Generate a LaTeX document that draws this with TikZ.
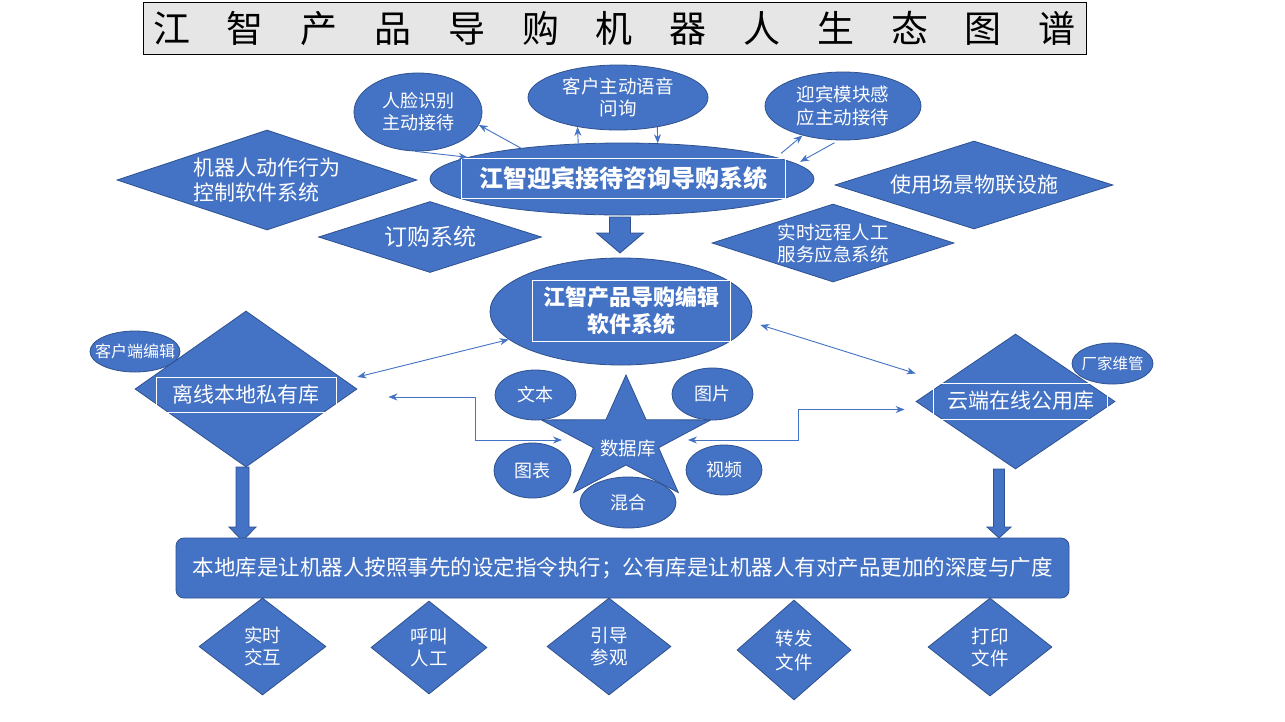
\documentclass[tikz,border=0pt]{standalone}
\usepackage{fontspec}
\setmainfont{Noto Sans CJK SC}
\usetikzlibrary{shapes.geometric, arrows.meta, positioning, calc}

\definecolor{boxblue}{HTML}{4472C4}
\definecolor{edgeblue}{HTML}{2F528F}
\definecolor{titlegrey}{HTML}{E7E6E6}

\newcommand{\fsz}[2]{\fontsize{#1}{#2}\selectfont}
\newcommand{\tgap}{\hspace{36.8pt}}

\tikzstyle{bubble}   = [ellipse, draw=edgeblue, fill=boxblue, line width=0.8pt, text=white, align=center, inner sep=0pt]
\tikzstyle{rhomb}    = [diamond, draw=edgeblue, fill=boxblue, line width=0.8pt, text=white, align=center, inner sep=0pt]
\tikzstyle{frame}    = [draw=white, line width=0.9pt, text=white, align=center, inner sep=0pt]
\tikzstyle{conn}     = [draw=boxblue, line width=0.9pt, -{Stealth[length=9pt,width=7pt]}]
\tikzstyle{dconn}    = [draw=boxblue, line width=0.9pt, {Stealth[length=9pt,width=7pt]}-{Stealth[length=9pt,width=7pt]}]
\tikzstyle{fatarrow} = [draw=edgeblue, fill=boxblue, line width=0.8pt]

\begin{document}
\begin{tikzpicture}[x=1pt, y=-1pt]

\fill[white] (0,0) rectangle (1285,721);
\useasboundingbox (0,0) rectangle (1285,721);

% title
\node[draw=black, fill=titlegrey, line width=0.8pt, minimum width=943, minimum height=52, inner sep=0pt, font=\fsz{37}{40}] (title) at (614.5,28)
  {江\tgap 智\tgap 产\tgap 品\tgap 导\tgap 购\tgap 机\tgap 器\tgap 人\tgap 生\tgap 态\tgap 图\tgap 谱};

% reception system
\node[bubble, minimum width=128, minimum height=78, font=\fsz{18}{22}] (face) at (418,112) {人脸识别\\主动接待};
\node[bubble, minimum width=180, minimum height=65, font=\fsz{18.5}{22}] (voice) at (618,97.5) {客户主动语音\\问询};
\node[bubble, minimum width=156, minimum height=68, font=\fsz{18.5}{23}] (sense) at (843,106) {迎宾模块感\\应主动接待};

\node[rhomb, minimum width=300, minimum height=100, shape aspect=3, align=left, font=\fsz{21}{25}] (motion) at (267,180) {机器人动作行为\\控制软件系统};
\node[rhomb, minimum width=223, minimum height=71, shape aspect=3.14, font=\fsz{23}{27}] (order) at (430,237) {订购系统};
\node[rhomb, minimum width=278, minimum height=88, shape aspect=3.16, font=\fsz{21}{25}] (iot) at (974,185) {使用场景物联设施};
\node[rhomb, minimum width=242, minimum height=78, shape aspect=3.1, font=\fsz{18.5}{22}] (remote) at (833,243) {实时远程人工\\服务应急系统};

\node[bubble, minimum width=384, minimum height=72] (greet) at (622,179) {};
\node[frame, minimum width=324, minimum height=40, font=\bfseries\fsz{24}{28}] (greett) at (623,178) {江智迎宾接待咨询导购系统};

\draw[conn] (greet.163) -- (face.-12);
\draw[conn] (face.-94) -- (greet.172);
\draw[conn] (greet.141) -- (voice.216);
\draw[conn] (voice.-37) -- (greet.45);
\draw[conn, shorten <=6pt] (greet.8) -- (sense.216);
\draw[conn, shorten <=5pt, shorten >=4pt] (sense.-97) -- (greet.5);

\draw[fatarrow] (609.5,217) -- (630.5,217) -- (630.5,233) -- (643.5,233) -- (620,253) -- (596.5,233) -- (609.5,233) -- cycle;

% editing software
\node[bubble, minimum width=262, minimum height=107] (edit) at (621,311.5) {};
\node[frame, minimum width=198, minimum height=61, font=\bfseries\fsz{22}{27}] (editt) at (631,310.5) {江智产品导购编辑\\软件系统};

% libraries
\node[rhomb, minimum width=222, minimum height=156] (lib) at (246,389) {};
\node[frame, minimum width=180, minimum height=35, font=\fsz{21}{25}] (libt) at (246,394.5) {离线本地私有库};
\node[bubble, minimum width=90, minimum height=41, label={[text=white, font=\fsz{16}{18}]center:客户端编辑}] (client) at (135,351.5) {};

\node[rhomb, minimum width=199, minimum height=135] (cloud) at (1015.5,401.5) {};
\node[frame, minimum width=174, minimum height=36, font=\fsz{21}{25}] (cloudt) at (1020.5,401) {云端在线公用库};
\node[bubble, minimum width=81, minimum height=41, label={[text=white, font=\fsz{15.5}{18}]center:厂家维管}] (maker) at (1112.5,363.5) {};

% database
\node[star, star points=5, star point ratio=2.6, minimum size=130, inner sep=0pt, draw=edgeblue, fill=boxblue, line width=0.8pt, xscale=1.37] (db) at (626,440) {};
\node[bubble, minimum width=81, minimum height=50, font=\fsz{18}{22}] (doc) at (535.5,395) {文本};
\node[bubble, minimum width=81, minimum height=52, font=\fsz{18}{22}] (pic) at (712.5,394) {图片};
\node[bubble, minimum width=77, minimum height=55, font=\fsz{18}{22}] (chart) at (532.5,470.5) {图表};
\node[bubble, minimum width=76, minimum height=50, font=\fsz{18}{22}] (video) at (724,470) {视频};
\node[bubble, minimum width=96, minimum height=51, font=\fsz{18}{22}] (mixed) at (628,502.5) {混合};
\node[text=white, inner sep=0pt, font=\fsz{18.5}{22}] (dbt) at (628,448) {数据库};

\draw[dconn] (edit.194) -- ([yshift=12pt]lib.east);
\draw[dconn] ([xshift=12pt]edit.-6) -- ([yshift=28pt]cloud.west);
\draw[dconn] ([xshift=-16pt]db.180) -- ++(-87,0) |- ([shift={(31,8)}]lib.east);
\draw[dconn] ([xshift=14pt]db.0) -- ++(110,0) |- ([shift={(-11,8)}]cloud.west);

\draw[fatarrow] (236,467) -- (249,467) -- (249,527) -- (256,527) -- (242.5,541) -- (229,527) -- (236,527) -- cycle;
\draw[fatarrow] (993.5,469) -- (1004.5,469) -- (1004.5,527) -- (1011,527) -- (999,538) -- (987,527) -- (993.5,527) -- cycle;

% summary and functions
\node[draw=edgeblue, fill=boxblue, line width=0.8pt, rounded corners=8pt, minimum width=893, minimum height=60, inner sep=0pt, text=white, font=\fsz{21.5}{25}] (note) at (622.5,568)
  {本地库是让机器人按照事先的设定指令执行；公有库是让机器人有对产品更加的深度与广度};

\node[rhomb, minimum width=127, minimum height=97, shape aspect=1.3, font=\fsz{18.5}{22}] (interact) at (262.5,646.5) {实时\\交互};
\node[rhomb, minimum width=116, minimum height=93, shape aspect=1.25, font=\fsz{18.5}{22}] (callhuman) at (429,647.5) {呼叫\\人工};
\node[rhomb, minimum width=124, minimum height=97, shape aspect=1.28, font=\fsz{18.5}{22}] (guide) at (609,646.5) {引导\\参观};
\node[rhomb, minimum width=114, minimum height=100, shape aspect=1.14, font=\fsz{18.5}{24}] (forward) at (794,650) {转发\\文件};
\node[rhomb, minimum width=124, minimum height=98, shape aspect=1.27, font=\fsz{18.5}{22}] (print) at (990,647) {打印\\文件};

\end{tikzpicture}
\end{document}
